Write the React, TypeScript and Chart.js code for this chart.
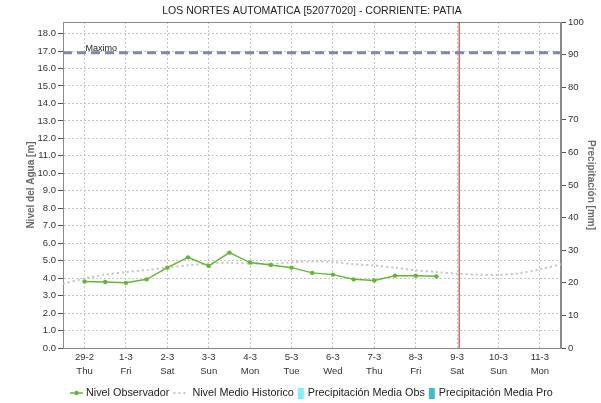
import React, { useEffect, useRef } from "react";
import { Chart, registerables } from "chart.js";

Chart.register(...registerables);

// ---------- data ----------
const CHART_TITLE = "LOS NORTES AUTOMATICA [52077020] - CORRIENTE: PATIA";
const LEFT_AXIS_TITLE = "Nivel del Agua [m]";
const RIGHT_AXIS_TITLE = "Precipitación [mm]";
const MAX_LABEL = "Maximo";

// x = days since 29-2 00:00
const dayLabels = ["29-2", "1-3", "2-3", "3-3", "4-3", "5-3", "6-3", "7-3", "8-3", "9-3", "10-3", "11-3"];
const weekdayLabels = ["Thu", "Fri", "Sat", "Sun", "Mon", "Tue", "Wed", "Thu", "Fri", "Sat", "Sun", "Mon"];

const obsTimes = [0, 0.5, 1, 1.5, 2, 2.5, 3, 3.5, 4, 4.5, 5, 5.5, 6, 6.5, 7, 7.5, 8, 8.5];
const obsLevels = [3.8, 3.78, 3.73, 3.93, 4.6, 5.19, 4.7, 5.46, 4.89, 4.75, 4.6, 4.3, 4.2, 3.93, 3.87, 4.14, 4.14, 4.1];

const histTimes = [-0.52, 0, 0.5, 1, 1.5, 2, 2.5, 3, 3.5, 4, 4.5, 5, 5.5, 6, 6.5, 7, 7.5, 8, 8.5, 9, 9.5, 10, 10.5, 11, 11.51];
const histLevels = [3.68, 3.98, 4.2, 4.35, 4.47, 4.6, 4.73, 4.83, 4.88, 4.84, 4.82, 4.9, 4.95, 4.92, 4.8, 4.72, 4.6, 4.45, 4.35, 4.25, 4.2, 4.18, 4.28, 4.5, 4.8];

const precipObs: number[] = [];
const precipPro: number[] = [];

const maximoLevel = 16.9;
const currentTime = 9.05;

const xMin = -0.52;
const xMax = 11.51;
const yMax = 18.66;
const levelTicks = [0, 1, 2, 3, 4, 5, 6, 7, 8, 9, 10, 11, 12, 13, 14, 15, 16, 17, 18];
const precipTicks = [0, 10, 20, 30, 40, 50, 60, 70, 80, 90, 100];

// ---------- styles ----------
const GREEN = "#62b834";
const HIST = "#c4c4c4";
const MAXC = "#7d8aa6";
const CYAN = "#7ff0ff";
const TEAL = "#3fbfc4";
const RED = "#c81c1c";
const GRID = "#c6c6c6";
const AXIS = "#8a8a8a";
const TICKFONT = { family: "'Liberation Sans Narrow', 'Liberation Sans', Arial", size: 9.5, lineHeight: 1.4 };

const overlayPlugin = {
  id: "overlay",
  beforeDatasetsDraw(chart: any) {
    const { ctx, chartArea } = chart;
    ctx.save();
    ctx.setLineDash([]);
    ctx.strokeStyle = AXIS;
    ctx.lineWidth = 1;
    ctx.strokeRect(chartArea.left + 0.5, chartArea.top + 0.5, chartArea.right - chartArea.left - 1, chartArea.bottom - chartArea.top);
    ctx.restore();
  },
  afterDatasetsDraw(chart: any) {
    const { ctx, scales } = chart;
    const x = scales.x;
    const y = scales.y;
    ctx.save();
    const my = y.getPixelForValue(maximoLevel);
    ctx.fillStyle = "#222";
    ctx.font = "9px 'Liberation Sans', Arial";
    ctx.textBaseline = "alphabetic";
    ctx.textAlign = "left";
    ctx.fillText(MAX_LABEL, x.getPixelForValue(0) + 1, my - 1.5);
    ctx.restore();
  },
  afterDraw(chart: any) {
    const { ctx, chartArea } = chart;
    ctx.save();
    // title
    ctx.fillStyle = "#222";
    ctx.font = "10.5px 'Liberation Sans', Arial";
    ctx.textAlign = "center";
    ctx.textBaseline = "middle";
    ctx.fillText(CHART_TITLE, (chartArea.left + chartArea.right) / 2, 11);
    // axis titles
    const midY = (chartArea.top + chartArea.bottom) / 2;
    ctx.fillStyle = "#6a6a6a";
    ctx.font = "bold 10px 'Liberation Sans', Arial";
    ctx.save();
    ctx.translate(31, midY);
    ctx.rotate(-Math.PI / 2);
    ctx.fillText(LEFT_AXIS_TITLE, 0, 0);
    ctx.restore();
    ctx.save();
    ctx.translate(591, midY);
    ctx.rotate(Math.PI / 2);
    ctx.fillText(RIGHT_AXIS_TITLE, 0, 0);
    ctx.restore();

    // legend
    const ly = 393;
    ctx.font = "10.8px 'Liberation Sans', Arial";
    ctx.textAlign = "left";
    ctx.textBaseline = "middle";
    const ds = chart.data.datasets;
    let lx = 70;
    const drawText = (t: string) => {
      ctx.fillStyle = "#222";
      ctx.fillText(t, lx, ly);
      lx += ctx.measureText(t).width + 4;
    };
    // item 1
    ctx.strokeStyle = GREEN;
    ctx.lineWidth = 1.5;
    ctx.beginPath();
    ctx.moveTo(lx, ly);
    ctx.lineTo(lx + 13, ly);
    ctx.stroke();
    ctx.fillStyle = GREEN;
    ctx.beginPath();
    ctx.arc(lx + 6.5, ly, 2.2, 0, Math.PI * 2);
    ctx.fill();
    lx += 16;
    drawText(ds[0].label);
    // item 2
    ctx.strokeStyle = HIST;
    ctx.lineWidth = 2;
    ctx.setLineDash([2, 3]);
    ctx.beginPath();
    ctx.moveTo(lx, ly);
    ctx.lineTo(lx + 14, ly);
    ctx.stroke();
    ctx.setLineDash([]);
    lx += 19;
    drawText(ds[1].label);
    // item 3
    ctx.fillStyle = CYAN;
    ctx.fillRect(lx, ly - 5, 6, 11);
    lx += 10;
    drawText(ds[4].label);
    // item 4
    ctx.fillStyle = TEAL;
    ctx.fillRect(lx, ly - 5, 6, 11);
    lx += 10;
    drawText(ds[5].label);
    ctx.restore();
  },
};

export default function App() {
  const ref = useRef<HTMLCanvasElement | null>(null);

  useEffect(() => {
    if (!ref.current) return;
    const chart = new Chart(ref.current, {
      type: "line",
      data: {
        datasets: [
          {
            label: "Nivel Observador",
            data: obsTimes.map((t, i) => ({ x: t, y: obsLevels[i] })),
            borderColor: GREEN,
            backgroundColor: GREEN,
            borderWidth: 1.5,
            pointRadius: 2.2,
            pointBorderWidth: 0,
            tension: 0,
            yAxisID: "y",
            order: 1,
          },
          {
            label: "Nivel Medio Historico",
            data: histTimes.map((t, i) => ({ x: t, y: histLevels[i] })),
            borderColor: HIST,
            borderWidth: 2,
            borderDash: [2, 3],
            pointRadius: 0,
            tension: 0.3,
            yAxisID: "y",
            order: 2,
          },
          {
            label: "Maximo",
            data: [
              { x: xMin, y: maximoLevel },
              { x: xMax, y: maximoLevel },
            ],
            borderColor: MAXC,
            borderWidth: 3,
            borderDash: [9, 5],
            pointRadius: 0,
            yAxisID: "y",
            order: 0,
          },
          {
            label: "Ahora",
            data: [
              { x: currentTime, y: 0 },
              { x: currentTime, y: yMax },
            ],
            borderColor: RED,
            borderWidth: 1,
            pointRadius: 0,
            yAxisID: "y",
            order: 3,
          },
          {
            type: "bar",
            label: "Precipitación Media Obs",
            data: precipObs.map((v, i) => ({ x: i, y: v })),
            backgroundColor: CYAN,
            yAxisID: "y1",
            order: 4,
          } as any,
          {
            type: "bar",
            label: "Precipitación Media Pro",
            data: precipPro.map((v, i) => ({ x: i, y: v })),
            backgroundColor: TEAL,
            yAxisID: "y1",
            order: 5,
          } as any,
        ],
      },
      options: {
        animation: false,
        responsive: false,
        layout: { padding: { top: 22, left: 0, right: 0, bottom: 0 } },
        plugins: {
          legend: { display: false },
          title: { display: false },
          tooltip: { enabled: false },
        },
        scales: {
          x: {
            type: "linear",
            offset: false,
            min: xMin,
            max: xMax,
            afterBuildTicks: (s: any) => {
              s.ticks = dayLabels.map((_, i) => ({ value: i }));
            },
            afterFit: (s: any) => {
              s.height = 55;
            },
            ticks: {
              autoSkip: false,
              maxRotation: 0,
              padding: 3,
              color: "#333",
              font: TICKFONT,
              callback: (v: any) => [dayLabels[v], weekdayLabels[v]],
            },
            grid: { color: GRID, drawTicks: false, tickLength: 0, offset: false },
            border: { display: true, color: AXIS, dash: [2, 2] },
          },
          y: {
            type: "linear",
            position: "left",
            min: 0,
            max: yMax,
            afterBuildTicks: (s: any) => {
              s.ticks = levelTicks.map((v) => ({ value: v }));
            },
            afterFit: (s: any) => {
              s.width = 63;
            },
            ticks: {
              padding: 2,
              color: "#333",
              font: TICKFONT,
              callback: (v: any) => Number(v).toFixed(1),
            },
            grid: { color: GRID, tickColor: "#555", tickLength: 5, tickBorderDash: [] } as any,
            border: { display: true, color: AXIS, dash: [2, 2] },
          },
          y1: {
            type: "linear",
            position: "right",
            min: 0,
            max: 100,
            afterBuildTicks: (s: any) => {
              s.ticks = precipTicks.map((v) => ({ value: v }));
            },
            afterFit: (s: any) => {
              s.width = 40;
            },
            ticks: {
              padding: 2,
              color: "#333",
              font: TICKFONT,
              callback: (v: any) => String(v),
            },
            grid: { drawOnChartArea: false, color: "#555", tickLength: 5 },
            border: { display: true, color: AXIS },
          },
        },
      },
      plugins: [overlayPlugin],
    } as any);
    return () => chart.destroy();
  }, []);

  return (
    <div style={{ position: "absolute", left: 0, top: 0, width: 601, height: 403, background: "#fff" }}>
      <canvas ref={ref} width={601} height={403} style={{ display: "block" }} />
    </div>
  );
}
